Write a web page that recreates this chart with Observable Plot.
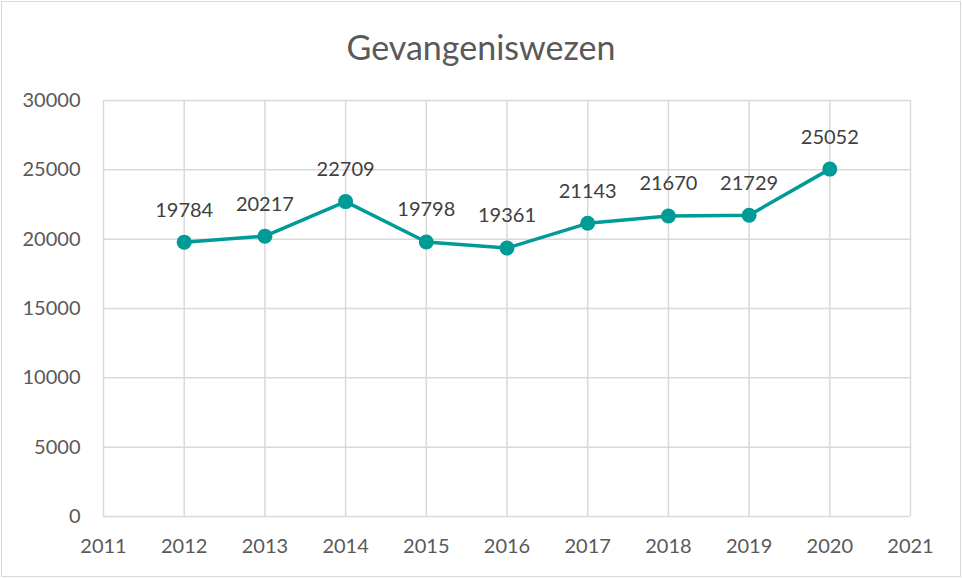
<!DOCTYPE html>
<html>
<head>
<meta charset="utf-8">
<script src="https://cdn.jsdelivr.net/npm/d3@7"></script>
<script src="https://cdn.jsdelivr.net/npm/@observablehq/plot@0.6"></script>
<style>
  body { margin: 0; background: #fff; }
  #wrap { position: relative; width: 962px; height: 578px; overflow: hidden; font-family: Lato, "Open Sans", sans-serif; }
  #border { position: absolute; left: 1px; top: 1px; width: 958px; height: 574px; border: 1px solid #d9d9d9; box-sizing: content-box; }
  #title { position: absolute; left: 0; top: 27px; width: 962px; text-align: center; font-size: 34px; color: #595959; line-height: 40px; }
  #chart { position: absolute; left: 0; top: 60px; }
</style>
</head>
<body>
<div id="wrap">
  <div id="border"></div>
  <div id="title">Gevangeniswezen</div>
  <div id="chart"></div>
</div>
<script>
const years = [2012, 2013, 2014, 2015, 2016, 2017, 2018, 2019, 2020];
const values = [19784, 20217, 22709, 19798, 19361, 21143, 21670, 21729, 25052];
const xTicks = [2011, 2012, 2013, 2014, 2015, 2016, 2017, 2018, 2019, 2020, 2021];
const yTicks = [0, 5000, 10000, 15000, 20000, 25000, 30000];

const data = years.map((y, i) => ({year: y, value: values[i]}));
const teal = "#009b96";

const chart = Plot.plot({
  width: 962,
  height: 518,
  marginTop: 40,
  marginBottom: 62,
  marginLeft: 103,
  marginRight: 52,
  style: {fontFamily: "Lato, 'Open Sans', sans-serif", fontSize: "20px", color: "#595959", background: "transparent"},
  x: {domain: [2011, 2021], ticks: xTicks, tickFormat: d => String(d), tickSize: 0, tickPadding: 22, label: null},
  y: {domain: [0, 30000], ticks: yTicks, tickFormat: d => String(d), tickSize: 0, tickPadding: 23, label: null},
  marks: [
    Plot.gridX(xTicks, {stroke: "#d9d9d9", strokeOpacity: 1, strokeWidth: 1.5}),
    Plot.gridY(yTicks, {stroke: "#d9d9d9", strokeOpacity: 1, strokeWidth: 1.5}),
    Plot.axisX({ticks: xTicks, tickFormat: d => String(d), tickSize: 0, tickPadding: 22, fill: "#595959", fontSize: 20}),
    Plot.axisY({ticks: yTicks, tickFormat: d => String(d), tickSize: 0, tickPadding: 23, fill: "#595959", fontSize: 20}),
    Plot.line(data, {x: "year", y: "value", stroke: teal, strokeWidth: 3.5}),
    Plot.dot(data, {x: "year", y: "value", fill: teal, r: 7.5}),
    Plot.text(data, {x: "year", y: "value", text: d => String(d.value), dy: -32, fill: "#404040", fontSize: 20})
  ]
});
document.getElementById("chart").appendChild(chart);
</script>
</body>
</html>
